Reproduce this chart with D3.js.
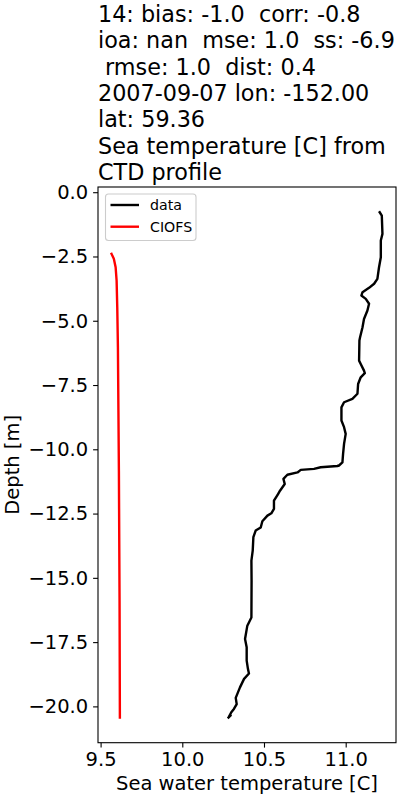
<!DOCTYPE html>
<html>
<head>
	<title>CTD profile</title>
	<meta charset="utf-8">
	<style type="text/css">
		body { margin: 0; background: #fff; }
		text { font-family: "DejaVu Sans", sans-serif; white-space: pre; }
	</style>
	<script src="https://d3js.org/d3.v7.min.js"></script>
</head>
<body>
<div class="div1"></div>
<script type="text/javascript">

	// observed CTD profile (temperature, depth)
	var data_temp = [11.208, 11.221, 11.225, 11.215, 11.215, 11.204, 11.194, 11.174, 11.143, 11.103,
		11.096, 11.123, 11.143, 11.133, 11.112, 11.103, 11.088, 11.084, 11.082, 11.092,
		11.112, 11.117, 11.092, 11.076, 11.072, 11.041, 10.990, 10.974, 10.974, 10.990,
		11.000, 10.990, 10.984, 10.980, 10.959, 10.949, 10.847, 10.806, 10.725, 10.705,
		10.643, 10.619, 10.627, 10.598, 10.586, 10.561, 10.561, 10.545, 10.521, 10.490,
		10.480, 10.449, 10.435, 10.431, 10.423, 10.424, 10.423, 10.398, 10.384, 10.394,
		10.394, 10.402, 10.408, 10.378, 10.353, 10.327, 10.333, 10.316, 10.300, 10.286,
		10.296, 10.283];
	var data_depth = [-0.78, -0.91, -1.62, -1.88, -2.53, -2.92, -3.37, -3.56, -3.72, -3.89,
		-4.02, -4.15, -4.34, -4.60, -4.93, -5.25, -5.64, -5.77, -6.55, -6.68,
		-6.94, -7.04, -7.20, -7.46, -7.84, -8.04, -8.17, -8.37, -8.88, -9.14,
		-9.40, -9.79, -10.18, -10.51, -10.63, -10.65, -10.70, -10.76, -10.80, -10.90,
		-10.99, -11.15, -11.35, -11.61, -11.74, -12.00, -12.32, -12.49, -12.58, -12.80,
		-13.04, -13.16, -13.42, -13.94, -14.33, -15.11, -16.54, -16.86, -17.38, -17.70,
		-18.22, -18.55, -18.72, -18.93, -19.26, -19.67, -19.91, -20.10, -20.23, -20.40,
		-20.35, -20.43];

	// CIOFS model profile
	var model_temp = [9.567, 9.581, 9.592, 9.598, 9.602, 9.606, 9.612, 9.616, 9.618];
	var model_depth = [-2.40, -2.59, -2.92, -3.44, -4.48, -6.03, -10.83, -15.88, -20.43];

	var x_ticks = [9.5, 10.0, 10.5, 11.0];
	var y_ticks = [0, -2.5, -5, -7.5, -10, -12.5, -15, -17.5, -20];

	var title_lines = [
		"14: bias: -1.0  corr: -0.8",
		"ioa: nan  mse: 1.0  ss: -6.9",
		" rmse: 1.0  dist: 0.4",
		"2007-09-07 lon: -152.00",
		"lat: 59.36",
		"Sea temperature [C] from",
		"CTD profile"
	];
	var series_names = ["data", "CIOFS"];
	var series_colors = ["black", "red"];

	var svgDims = {width: 400, height: 800};
	var box = {left: 98, right: 396, top: 187, bottom: 742.7};

	function join(xs, ys){
		var out = [];
		for (var i = 0; i < xs.length; i++){
			out.push({x: xs[i], y: ys[i]});
		}
		return out;
	}

	// matplotlib style 5% padding
	function padded(vals){
		var e = d3.extent(vals);
		var p = (e[1] - e[0]) * 0.05;
		return [e[0] - p, e[1] + p];
	}

	var svg = d3.select(".div1")
		.append("svg")
		.attr("width", svgDims.width)
		.attr("height", svgDims.height);

	var x_scale = d3.scaleLinear()
		.domain(padded(data_temp.concat(model_temp)))
		.range([box.left, box.right]);
	var y_scale = d3.scaleLinear()
		.domain(padded(data_depth.concat(model_depth)))
		.range([box.bottom, box.top]);

	var fmt = function(d){ return d3.format(".1f")(d).replace("-", "\u2212"); };

	var x_axis = d3.axisBottom(x_scale).tickValues(x_ticks).tickFormat(fmt).tickSizeInner(4.9).tickSizeOuter(0).tickPadding(4.9);
	var y_axis = d3.axisLeft(y_scale).tickValues(y_ticks).tickFormat(fmt).tickSizeInner(4.9).tickSizeOuter(0).tickPadding(4.9);

	var gx = svg.append("g")
		.attr("transform", "translate(0," + box.bottom + ")")
		.call(x_axis);
	var gy = svg.append("g")
		.attr("transform", "translate(" + box.left + ",0)")
		.call(y_axis);

	[gx, gy].forEach(function(g){
		g.select(".domain").remove();
		g.selectAll(".tick line").attr("stroke", "#000").attr("stroke-width", 1.1);
		g.selectAll(".tick text").attr("fill", "#000").attr("font-size", "19.5px")
			.attr("font-family", "DejaVu Sans");
	});

	// lines
	var line = d3.line()
		.x(function(d){ return x_scale(d.x); })
		.y(function(d){ return y_scale(d.y); });

	var series = [join(data_temp, data_depth), join(model_temp, model_depth)];

	series.forEach(function(s, i){
		svg.append("path")
			.datum(s)
			.attr("fill", "none")
			.attr("stroke", series_colors[i])
			.attr("stroke-width", 2.4)
			.attr("stroke-linejoin", "round")
			.attr("stroke-linecap", "square")
			.attr("d", line);
	});

	// frame
	svg.append("rect")
		.attr("x", box.left)
		.attr("y", box.top)
		.attr("width", box.right - box.left)
		.attr("height", box.bottom - box.top)
		.attr("fill", "none")
		.attr("stroke", "#000")
		.attr("stroke-width", 1.1);

	// legend
	var leg = svg.append("g");
	leg.append("rect")
		.attr("x", 105.5).attr("y", 194)
		.attr("width", 90.5).attr("height", 46.5)
		.attr("rx", 3)
		.attr("fill", "#fff").attr("fill-opacity", 0.8)
		.attr("stroke", "#ccc").attr("stroke-width", 1.1);
	series_names.forEach(function(name, i){
		var yy = 205 + i * 21.7;
		leg.append("line")
			.attr("x1", 110.5).attr("x2", 139)
			.attr("y1", yy).attr("y2", yy)
			.attr("stroke", series_colors[i]).attr("stroke-width", 2.4);
		leg.append("text")
			.attr("x", 150).attr("y", yy + 5)
			.attr("font-size", "14.2px")
			.text(name);
	});

	// title, left aligned over the axes
	svg.append("g").selectAll("text")
		.data(title_lines)
		.join("text")
		.attr("x", box.left)
		.attr("y", function(d, i){ return 22 + i * 26.3; })
		.attr("font-size", "22.3px")
		.attr("xml:space", "preserve")
		.text(function(d){ return d; });

	// axis labels
	svg.append("text")
		.attr("x", (box.left + box.right) / 2)
		.attr("y", 790)
		.attr("text-anchor", "middle")
		.attr("font-size", "19.5px")
		.text("Sea water temperature [C]");

	svg.append("text")
		.attr("transform", "translate(19," + (box.top + box.bottom) / 2 + ") rotate(-90)")
		.attr("text-anchor", "middle")
		.attr("font-size", "19.5px")
		.text("Depth [m]");

</script>
</body>
</html>
